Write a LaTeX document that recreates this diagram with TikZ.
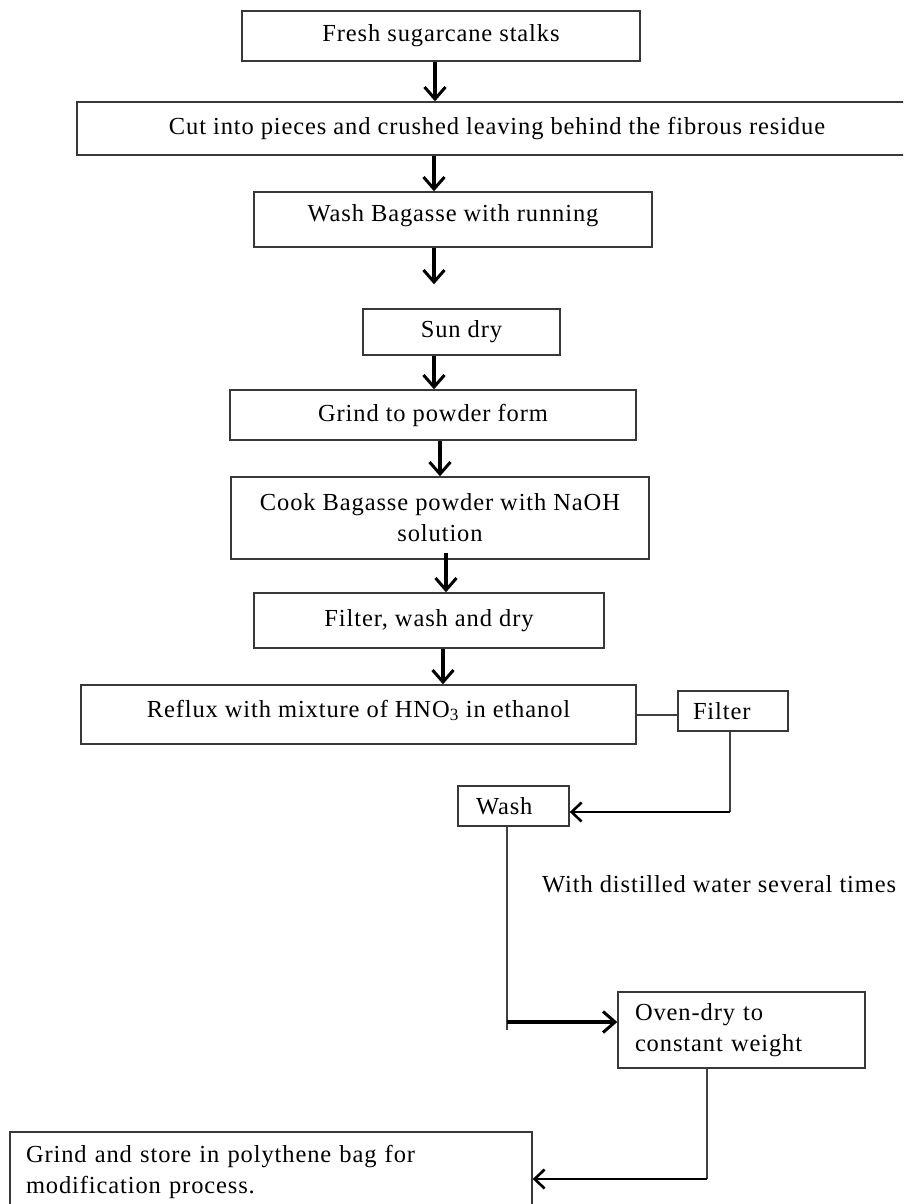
\documentclass[tikz,border=0pt]{standalone}
\usepackage{fontspec}
\setmainfont[LetterSpace=3.6]{Liberation Serif}
\usetikzlibrary{arrows.meta}
\begin{document}
\begin{tikzpicture}[x=1pt, y=-1pt,
    box/.style={draw=black!78, line width=1.4pt, inner sep=0pt, font=\fontsize{24.5}{31}\selectfont},
    lbox/.style={box, align=left, inner ysep=0pt},
    flow/.style={line width=3.2pt, -{Straight Barb[length=12pt, width=21pt, line width=3pt]}},
    link/.style={draw=black!75, line width=1.4pt},
    side/.style={line width=2.4pt, -{Straight Barb[length=10pt, width=19pt, line width=2.6pt]}}]
  \useasboundingbox (0,0) rectangle (903,1204);
  \clip (0,0) rectangle (903,1204);

  % main column
  \node[box, minimum width=398pt, minimum height=50pt] (fresh) at (441,36) {Fresh sugarcane stalks};
  \node[box, minimum width=840pt, minimum height=53pt] (cut) at (497,128.5) {Cut into pieces and crushed leaving behind the fibrous residue};
  \node[box, minimum width=398pt, minimum height=55pt, text depth=14pt] (wash) at (453,219.5) {Wash Bagasse with running};
  \node[box, minimum width=197pt, minimum height=46pt] (sun) at (461.5,332) {Sun dry};
  \node[box, minimum width=406pt, minimum height=50pt] (grind) at (433,415) {Grind to powder form};
  \node[box, minimum width=418pt, minimum height=82pt, align=center] (cook) at (440,518) {Cook Bagasse powder with NaOH\\solution};
  \node[box, minimum width=350pt, minimum height=55pt] (fwd) at (429,620.5) {Filter, wash and dry};
  \node[box, minimum width=555pt, minimum height=59pt, text depth=12pt] (reflux) at (358.5,714.5) {Reflux with mixture of HNO\textsubscript{3} in ethanol};

  % side branch
  \node[lbox, text width=80pt, inner xsep=15pt, minimum height=40pt] (filter) at (733,711) {Filter};
  \node[lbox, text width=75pt, inner xsep=18pt, minimum height=40pt] (washb) at (513.5,806) {Wash};
  \node[lbox, text width=213pt, inner xsep=17pt, minimum height=76pt] (oven) at (741.5,1030) {Oven-dry to\\constant weight};
  \node[lbox, text width=490pt, inner xsep=16pt, minimum height=79pt] (store) at (271,1171.5) {Grind and store in polythene bag for\\modification process.};
  \node[font=\fontsize{24.5}{31}\selectfont, anchor=west, inner sep=0pt] (water) at (542,884) {With distilled water several times};

  \draw[flow] (fresh.south -| 435,0) -- (cut.north -| 435,0);
  \draw[flow] (cut.south -| 434,0) -- (wash.north -| 434,0);
  \draw[flow, shorten >=24pt] (wash.south -| 434,0) -- (sun.north -| 434,0);
  \draw[flow] (sun.south -| 434,0) -- (grind.north -| 434,0);
  \draw[flow] (grind.south -| 440,0) -- (cook.north -| 440,0);
  \draw[flow] ([yshift=7pt]cook.south -| 446,0) -- (fwd.north -| 446,0);
  \draw[flow] (fwd.south -| 443,0) -- (reflux.north -| 443,0);

  \draw[link] (reflux.east |- 0,715) -- (filter.west |- 0,715);
  \coordinate (fw) at (730,812);
  \draw[link] (filter.south -| fw) -- (fw);
  \draw[side] (fw) -- (washb.east |- fw);
  \coordinate (wo) at (507,1022);
  \draw[link] (washb.south -| wo) -- ([yshift=-8pt]wo);
  \draw[flow] (wo) -- (oven.west |- wo);
  \coordinate (os) at (707,1179);
  \draw[link] (oven.south -| os) -- (os);
  \draw[side] (os) -- (store.east |- os);
\end{tikzpicture}
\end{document}
